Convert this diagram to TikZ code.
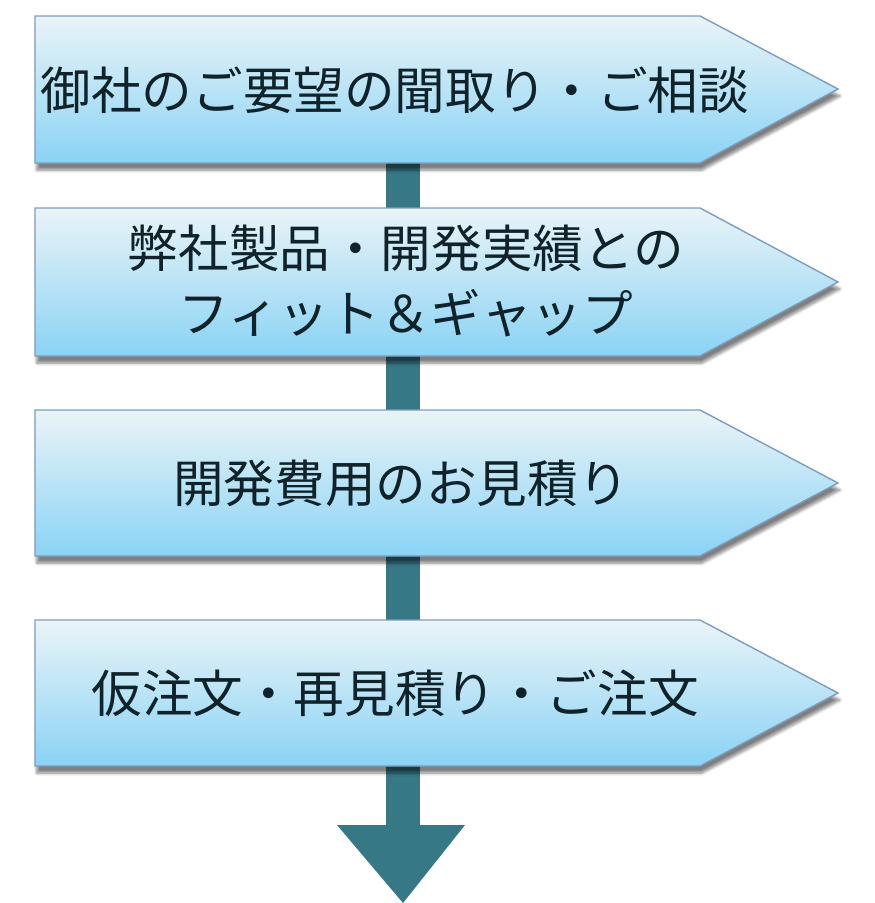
\documentclass[tikz,border=0pt]{standalone}
\usepackage{fontspec}
\newfontfamily\jpfont{Noto Sans CJK JP}
\usetikzlibrary{shadows.blur}
\definecolor{stepedge}{HTML}{7F9CBF}
\definecolor{steptop}{HTML}{EAF4F7}
\definecolor{stepbottom}{HTML}{8AD3F5}
\definecolor{shaft}{HTML}{377887}
\definecolor{steptext}{HTML}{10222A}
\tikzset{
  stepbox/.style={draw=stepedge, line width=0.8pt, top color=steptop, bottom color=stepbottom,
    blur shadow={shadow xshift=1pt, shadow yshift=-4pt, shadow blur steps=6, shadow opacity=50}},
  steplabel/.style={text=steptext, font=\jpfont\fontsize{28.8}{36.5}\selectfont, align=center}
}
\begin{document}
\begin{tikzpicture}[x=0.02cm, y=-0.02cm]
\useasboundingbox (0,0) rectangle (875,903);

% shaft behind the boxes
\fill[shaft] (386,150) rectangle (420,830);
\coordinate (headL) at (337,825);
\coordinate (headR) at (465,825);
\coordinate (headT) at (403,903);
\fill[shaft] (headL) -- (headR) -- (headT) -- cycle;

\draw[stepbox] (35,16)--(700,16)--(838,89)--(700,163)--(35,163)--cycle;
\draw[stepbox] (35,208)--(700,208)--(838,282)--(700,356)--(35,356)--cycle;
\draw[stepbox] (35,410)--(700,410)--(838,483)--(700,556)--(35,556)--cycle;
\draw[stepbox] (35,620)--(700,620)--(838,693)--(700,766)--(35,766)--cycle;

\node[steplabel] (s1) at (395,90) {御社のご要望の聞取り・ご相談};
\node[steplabel] (s2) at (406,281) {弊社製品・開発実績との\\フィット＆ギャップ};
\node[steplabel] (s3) at (401,483) {開発費用のお見積り};
\node[steplabel] (s4) at (395,693) {仮注文・再見積り・ご注文};
\end{tikzpicture}
\end{document}
